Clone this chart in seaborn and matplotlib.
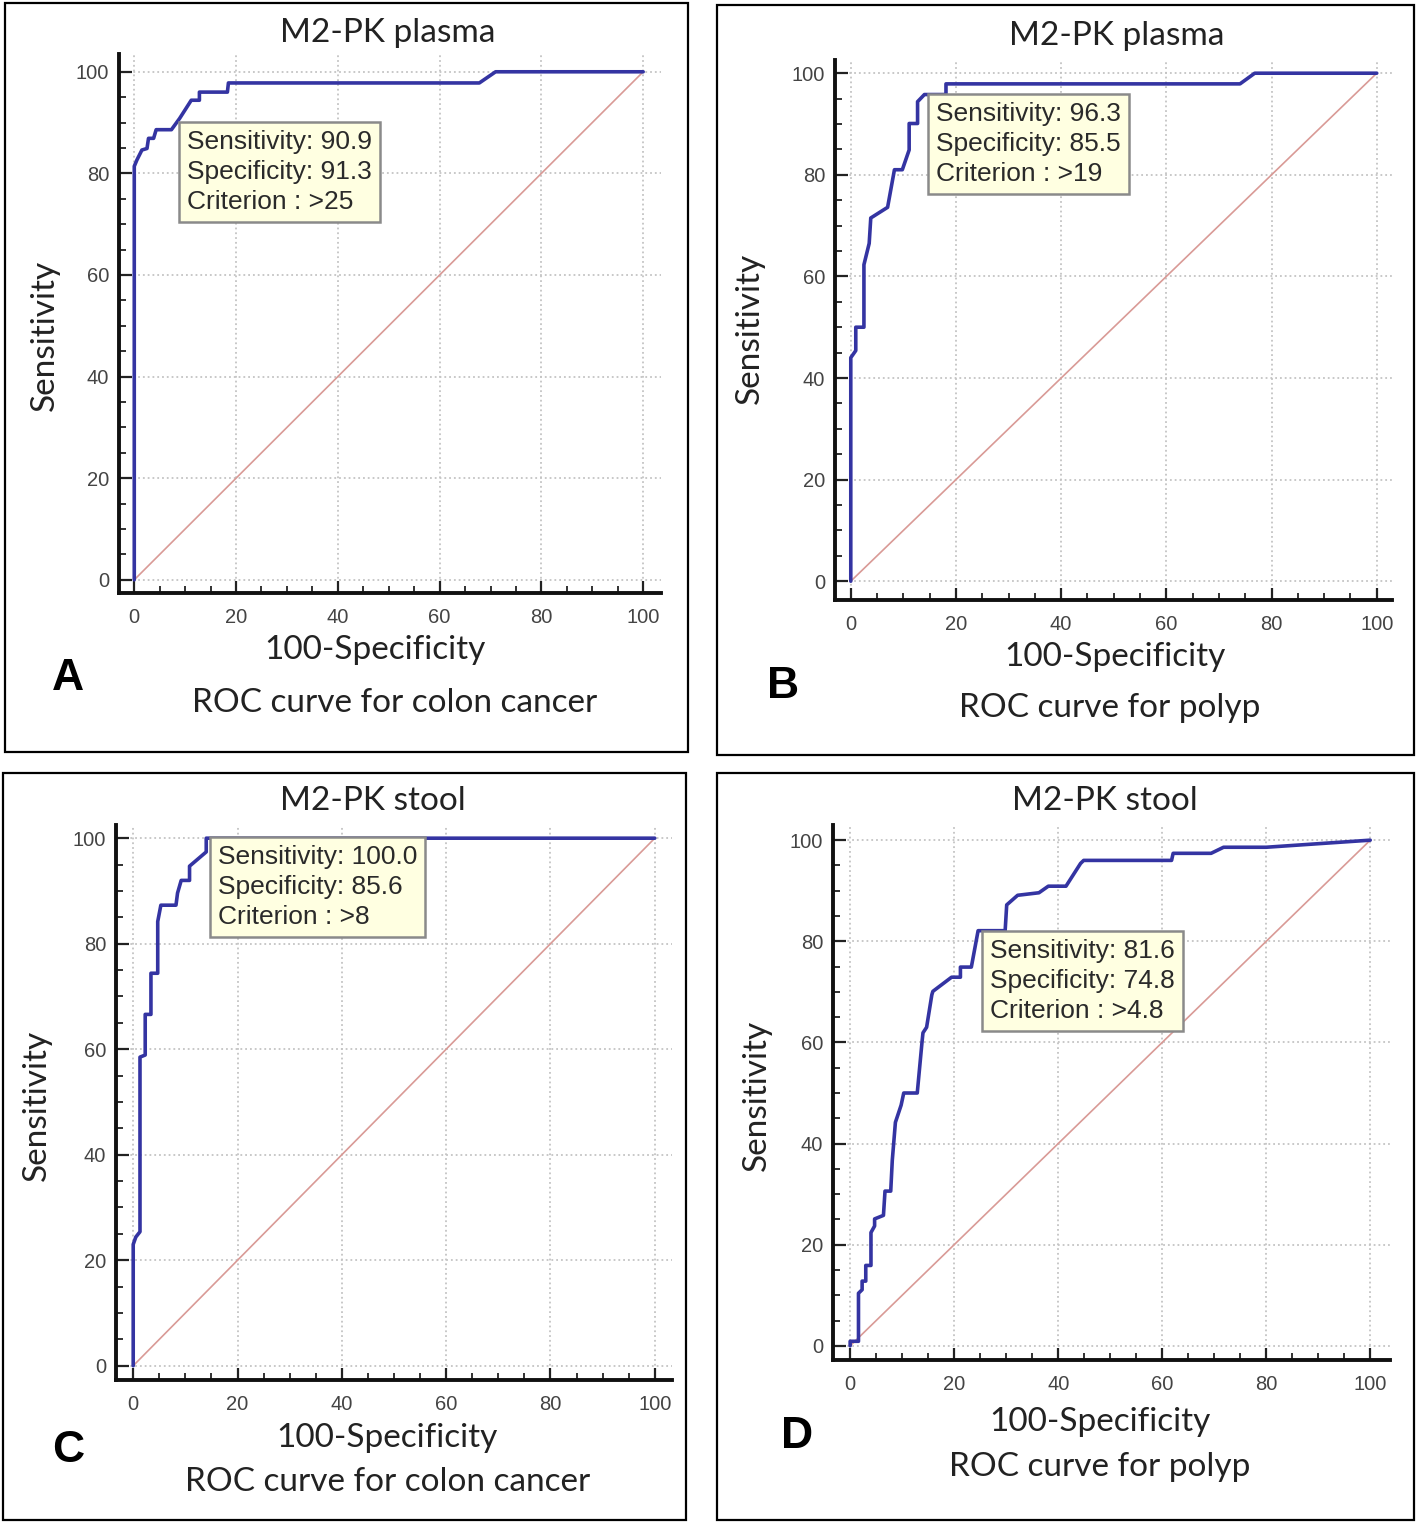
import numpy as np
import pandas as pd
import matplotlib
matplotlib.use("Agg")
import matplotlib.pyplot as plt
from matplotlib.patches import Rectangle
from matplotlib.ticker import MultipleLocator
import seaborn as sns

# ROC points (100-Specificity, Sensitivity)
a_fpr = [0, 0, 0.5, 1.5, 2.5, 2.8, 3.8, 4.3, 7.3, 8.9, 11.2, 12.8, 12.8, 18.3, 18.5, 67.8, 71, 100]
a_tpr = [0, 81.4, 82.6, 84.6, 84.9, 86.9, 86.9, 88.6, 88.6, 90.8, 94.4, 94.4, 96, 96, 97.8, 97.8, 100, 100]

b_fpr = [0, 0, 0.95, 0.95, 2.5, 2.5, 3.5, 3.8, 7, 8.3, 9.8, 11.1, 11.1, 12.7, 12.7, 14, 18.1, 18.1, 74, 76.8, 100]
b_tpr = [0, 44, 45.4, 50, 50, 62.3, 66.5, 71.5, 73.6, 81, 81, 84.9, 90.1, 90.1, 94.4, 95.8, 95.8, 97.9, 97.9, 100, 100]

c_fpr = [0, 0, 0.5, 1.3, 1.3, 2.3, 2.3, 3.4, 3.4, 4.7, 4.7, 5.3, 8.2, 8.5, 9.2, 10.8, 10.8, 14, 14, 100]
c_tpr = [0, 23, 24.4, 25.4, 58.5, 58.9, 66.6, 66.6, 74.4, 74.4, 84.2, 87.3, 87.3, 89.6, 92, 92, 94.7, 97.4, 100, 100]

d_fpr = [0, 0, 1.6, 1.6, 2.3, 2.3, 3.0, 3.0, 4.0, 4.0, 4.7, 4.7, 6.4, 6.7, 7.8, 8.1, 8.7, 9.8, 10.3, 12.9,
         13.8, 14.0, 14.7, 15.7, 15.9, 19.5, 21.2, 21.2, 23.3, 24.6, 29.8, 30.1, 32.2, 36.3, 38.1, 41.5,
         44.3, 44.9, 61.8, 62.1, 69.4, 71.8, 80, 100]
d_tpr = [0, 0.9, 0.9, 10.4, 11.1, 12.8, 12.8, 15.9, 15.9, 22.4, 23.7, 25.1, 25.8, 30.6, 30.6, 36.7, 44.2, 47.6, 50, 50,
         59.9, 61.9, 63, 69.4, 70.1, 72.9, 72.9, 74.9, 74.9, 82.1, 82.1, 87.2, 89.1, 89.6, 90.9, 90.9,
         95.4, 96, 96, 97.4, 97.4, 98.6, 98.6, 100]

titles = ["M2-PK plasma", "M2-PK plasma", "M2-PK stool", "M2-PK stool"]
subtitles = ["ROC curve for colon cancer", "ROC curve for polyp",
             "ROC curve for colon cancer", "ROC curve for polyp"]
letters = ["A", "B", "C", "D"]
sens = ["90.9", "96.3", "100.0", "81.6"]
spec = ["91.3", "85.5", "85.6", "74.8"]
crit = [">25", ">19", ">8", ">4.8"]
ticks = [0, 20, 40, 60, 80, 100]

W, H = 1418, 1525
sns.set_theme(style="white")
plt.rcParams["font.family"] = ["Lato", "DejaVu Sans"]
narrow = ["Liberation Sans Narrow", "Liberation Sans", "DejaVu Sans"]
arial = ["Liberation Sans", "DejaVu Sans"]

fig = plt.figure(figsize=(W / 100, H / 100), dpi=100)


def fx(x):
    return x / W


def fy(y):
    return 1 - y / H


# layout in pixels: axes box (l, t, r, b), limits, frame, text anchors
panels = [
    dict(fpr=a_fpr, tpr=a_tpr, box=(119, 54, 661, 593), xlim=(-3, 103.5), ylim=(-2.6, 103.5),
         frame=(5, 3, 688, 752), title=(388, 33), xlab=(375, 650), sub=(395, 703), let=(68, 678),
         ylab=(45, 335), note=(10.3, 88.6)),
    dict(fpr=b_fpr, tpr=b_tpr, box=(835, 60, 1392, 600), xlim=(-3, 102.9), ylim=(-3.7, 102.6),
         frame=(717, 5, 1414, 755), title=(1117, 36), xlab=(1115, 657), sub=(1110, 708), let=(783, 686),
         ylab=(750, 328), note=(16.2, 94.4)),
    dict(fpr=c_fpr, tpr=c_tpr, box=(116, 825, 672, 1380), xlim=(-3.3, 103.3), ylim=(-2.7, 102.5),
         frame=(3, 773, 686, 1520), title=(373, 801), xlab=(387, 1438), sub=(388, 1482), let=(68, 1450),
         ylab=(37, 1105), note=(16.2, 98.8)),
    dict(fpr=d_fpr, tpr=d_tpr, box=(833, 825, 1390, 1360), xlim=(-3.3, 103.8), ylim=(-2.8, 103),
         frame=(717, 773, 1414, 1520), title=(1105, 801), xlab=(1100, 1422), sub=(1100, 1467), let=(797, 1437),
         ylab=(757, 1095), note=(26.9, 80.4)),
]

for i, p in enumerate(panels):
    l, t, r, b = p["box"]
    ax = fig.add_axes([fx(l), fy(b), (r - l) / W, (b - t) / H])
    df = pd.DataFrame({"fpr": p["fpr"], "tpr": p["tpr"]})
    ax.plot([0, 100], [0, 100], color="#d99a96", lw=1.2, zorder=2)
    sns.lineplot(data=df, x="fpr", y="tpr", sort=False, estimator=None, color="#3434a2",
                 lw=2.6, ax=ax, zorder=3)
    ax.set_xlim(*p["xlim"])
    ax.set_ylim(*p["ylim"])
    ax.set_xticks(ticks)
    ax.set_yticks(ticks)
    ax.xaxis.set_minor_locator(MultipleLocator(5))
    ax.yaxis.set_minor_locator(MultipleLocator(5))
    ax.grid(True, which="major", color="#c4c4c4", linestyle=":", lw=1.3)
    ax.tick_params(which="both", bottom=True, left=True, top=False, right=False)
    ax.tick_params(which="major", direction="in", length=9, width=1.6, color="#222222",
                   labelsize=14.5, labelcolor="#444444")
    ax.tick_params(which="minor", direction="in", length=5, width=1.3, color="#222222")
    ax.tick_params(axis="x", which="major", pad=11)
    ax.tick_params(axis="y", which="major", pad=7)
    for lab in ax.get_xticklabels() + ax.get_yticklabels():
        lab.set_family(narrow)
    for s in ["top", "right"]:
        ax.spines[s].set_visible(False)
    for s in ["left", "bottom"]:
        ax.spines[s].set_color("#111111")
        ax.spines[s].set_linewidth(2.8)
    ax.set_xlabel("")
    ax.set_ylabel("")
    ax.set_facecolor("white")

    note = f"Sensitivity: {sens[i]}\nSpecificity: {spec[i]}\nCriterion : {crit[i]}"
    ax.text(p["note"][0], p["note"][1], note, ha="left", va="top", fontsize=19,
            family=arial, color="#2a2a2a", linespacing=1.32, zorder=5,
            bbox=dict(boxstyle="square,pad=0.3", fc="#ffffe1", ec="#8a8a8a", lw=1.8))

    fl, ft, fr, fb = p["frame"]
    fig.add_artist(Rectangle((fx(fl), fy(fb)), (fr - fl) / W, (fb - ft) / H,
                             transform=fig.transFigure, fill=False, ec="black", lw=1.6))
    fig.text(fx(p["title"][0]), fy(p["title"][1]), titles[i], ha="center", va="center",
             fontsize=24, color="#222222")
    fig.text(fx(p["xlab"][0]), fy(p["xlab"][1]), "100-Specificity", ha="center", va="center",
             fontsize=24, color="#222222")
    fig.text(fx(p["sub"][0]), fy(p["sub"][1]), subtitles[i], ha="center", va="center",
             fontsize=24, color="#222222")
    fig.text(fx(p["ylab"][0]), fy(p["ylab"][1]), "Sensitivity", ha="center", va="center",
             rotation=90, fontsize=24, color="#222222")
    fig.text(fx(p["let"][0]), fy(p["let"][1]), letters[i], ha="center", va="center",
             fontsize=32, fontweight="bold", family=arial, color="black")

fig.savefig("out.png", dpi=100, facecolor="white")
